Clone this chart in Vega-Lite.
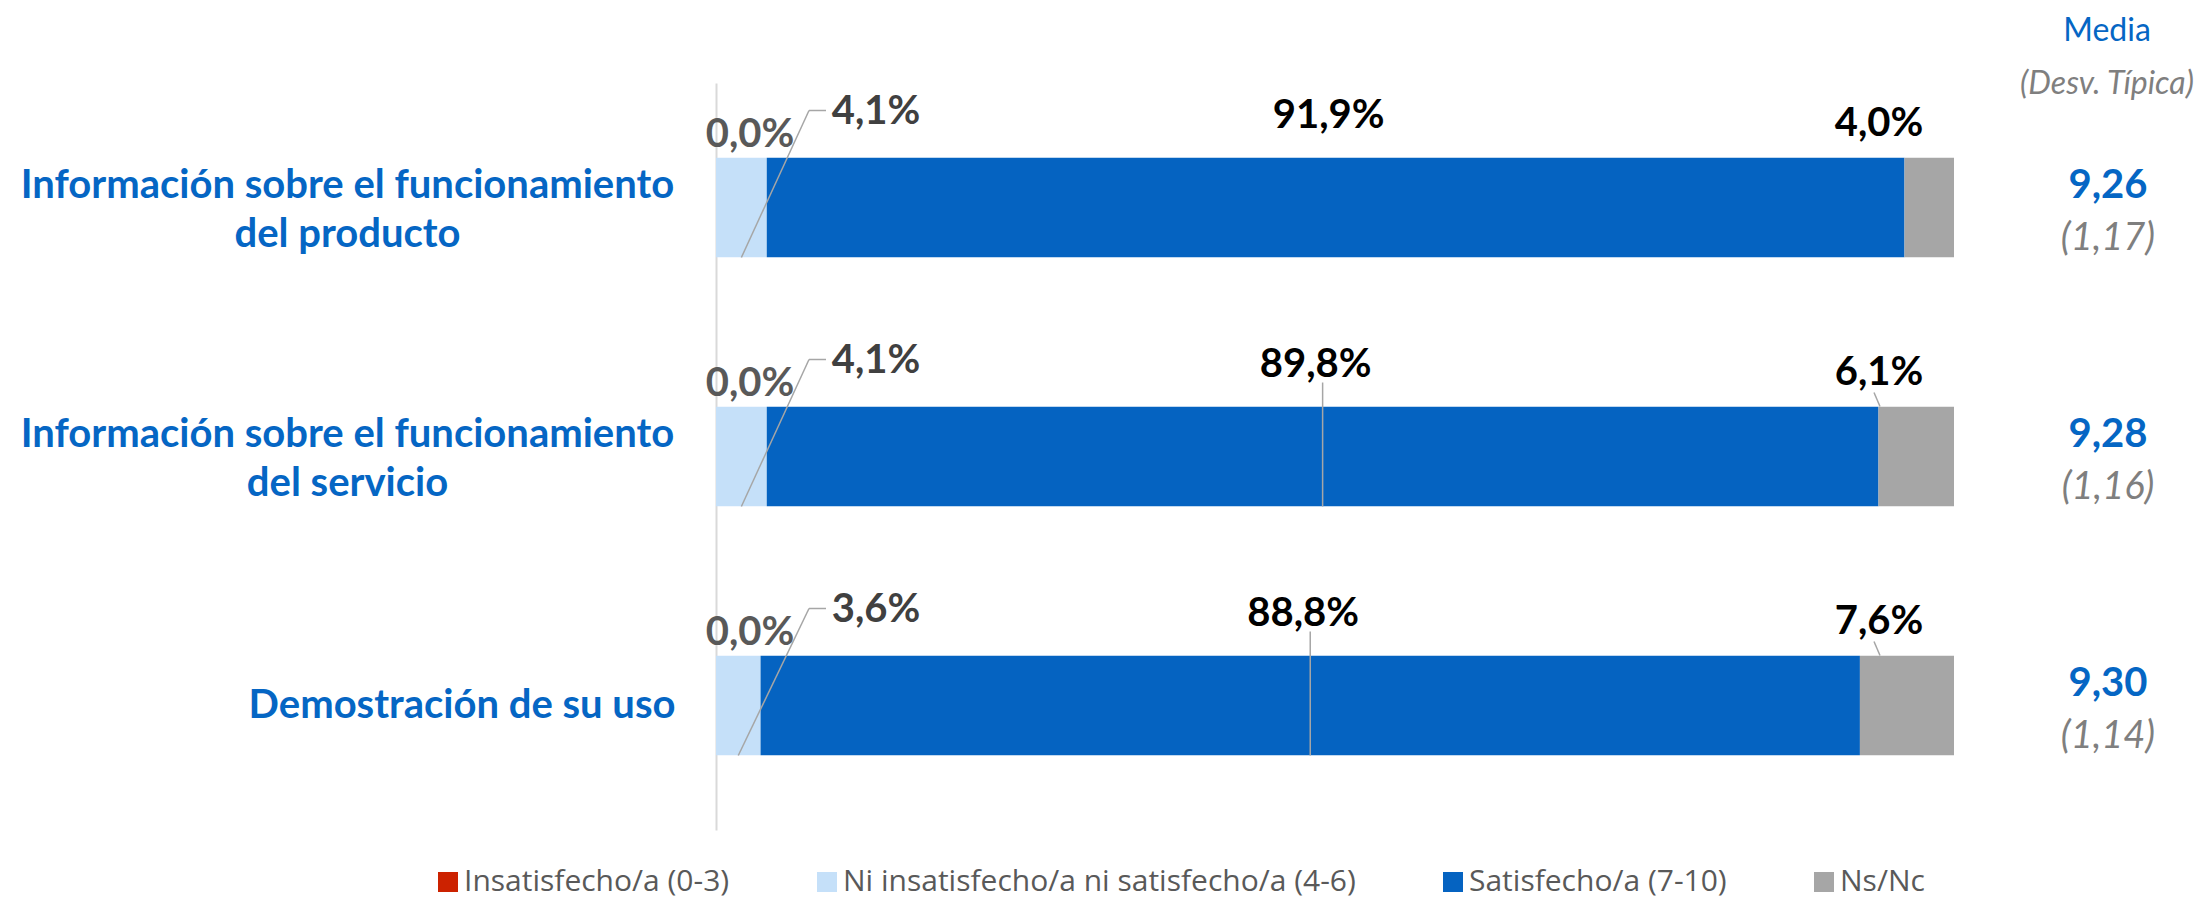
{
  "$schema": "https://vega.github.io/schema/vega-lite/v6.json",
  "width": 1238,
  "height": 747,
  "autosize": {"type": "none"},
  "padding": {"left": 716, "top": 83, "right": 253, "bottom": 69},
  "background": "white",
  "config": {"view": {"stroke": null}, "font": "Lato"},
  "title": {
    "text": "Media",
    "subtitle": "(Desv. Típica)",
    "anchor": "end",
    "frame": "group",
    "align": "center",
    "orient": "top",
    "offset": 0,
    "dx": 153,
    "dy": 18,
    "font": "Lato",
    "fontSize": 32,
    "fontWeight": "normal",
    "color": "#0566C4",
    "subtitleFont": "Lato",
    "subtitleFontSize": 32,
    "subtitleFontStyle": "italic",
    "subtitleColor": "#7F7F7F",
    "subtitlePadding": 21
  },
  "datasets": {
    "resp": [
      {"item": "Información sobre el funcionamiento del producto", "cat": "Insatisfecho/a (0-3)", "pct": 0.0},
      {"item": "Información sobre el funcionamiento del producto", "cat": "Ni insatisfecho/a ni satisfecho/a (4-6)", "pct": 4.1},
      {"item": "Información sobre el funcionamiento del producto", "cat": "Satisfecho/a (7-10)", "pct": 91.9},
      {"item": "Información sobre el funcionamiento del producto", "cat": "Ns/Nc", "pct": 4.0},
      {"item": "Información sobre el funcionamiento del servicio", "cat": "Insatisfecho/a (0-3)", "pct": 0.0},
      {"item": "Información sobre el funcionamiento del servicio", "cat": "Ni insatisfecho/a ni satisfecho/a (4-6)", "pct": 4.1},
      {"item": "Información sobre el funcionamiento del servicio", "cat": "Satisfecho/a (7-10)", "pct": 89.8},
      {"item": "Información sobre el funcionamiento del servicio", "cat": "Ns/Nc", "pct": 6.1},
      {"item": "Demostración de su uso", "cat": "Insatisfecho/a (0-3)", "pct": 0.0},
      {"item": "Demostración de su uso", "cat": "Ni insatisfecho/a ni satisfecho/a (4-6)", "pct": 3.6},
      {"item": "Demostración de su uso", "cat": "Satisfecho/a (7-10)", "pct": 88.8},
      {"item": "Demostración de su uso", "cat": "Ns/Nc", "pct": 7.6}
    ],
    "medias": [
      {"item": "Información sobre el funcionamiento del producto", "media": 9.26, "desv": 1.17},
      {"item": "Información sobre el funcionamiento del servicio", "media": 9.28, "desv": 1.16},
      {"item": "Demostración de su uso", "media": 9.30, "desv": 1.14}
    ]
  },
  "layer": [
    {
      "data": {"name": "resp"},
      "transform": [
        {"calculate": "indexof(['Insatisfecho/a (0-3)','Ni insatisfecho/a ni satisfecho/a (4-6)','Satisfecho/a (7-10)','Ns/Nc'], datum.cat)", "as": "ord"},
        {"stack": "pct", "groupby": ["item"], "sort": [{"field": "ord", "order": "ascending"}], "as": ["x0", "x1"]},
        {"calculate": "(datum.x0 + datum.x1) / 2", "as": "mid"},
        {"calculate": "replace(format(datum.pct, '.1f'), '.', ',') + '%'", "as": "lbl"},
        {"calculate": "datum.item == 'Información sobre el funcionamiento del producto'", "as": "first"}
      ],
      "layer": [
        {
          "mark": {"type": "bar"},
          "encoding": {
            "x": {"field": "x0", "type": "quantitative", "scale": {"domain": [0, 100], "nice": false, "zero": false}, "axis": null},
            "x2": {"field": "x1"},
            "y": {
              "field": "item",
              "type": "nominal",
              "scale": {
                "domain": ["Información sobre el funcionamiento del producto", "Información sobre el funcionamiento del servicio", "Demostración de su uso"],
                "paddingInner": 0.6,
                "paddingOuter": 0.3
              },
              "axis": {
                "title": null,
                "ticks": false,
                "domainColor": "#D9D9D9",
                "domainWidth": 2,
                "labelFont": "Lato",
                "labelFontWeight": "bold",
                "labelFontSize": 40,
                "labelColor": "#0566C4",
                "labelLineHeight": 49,
                "labelLimit": 1200,
                "labelExpr": "datum.value == 'Demostración de su uso' ? datum.value : [slice(datum.value, 0, 35), slice(datum.value, 36)]",
                "labelAlign": {"condition": {"test": "datum.value == 'Demostración de su uso'", "value": "right"}, "value": "center"},
                "labelPadding": {"condition": {"test": "datum.value == 'Demostración de su uso'", "value": 41}, "value": 369},
                "labelOffset": {"condition": {"test": "datum.value == 'Demostración de su uso'", "value": 0}, "value": -22}
              }
            },
            "color": {
              "field": "cat",
              "type": "nominal",
              "scale": {
                "domain": ["Insatisfecho/a (0-3)", "Ni insatisfecho/a ni satisfecho/a (4-6)", "Satisfecho/a (7-10)", "Ns/Nc"],
                "range": ["#CC2200", "#C5E0F9", "#0563C1", "#A6A6A6"]
              },
              "legend": {
                "title": null,
                "orient": "none",
                "legendX": -283,
                "legendY": 784,
                "direction": "horizontal",
                "symbolType": "square",
                "symbolSize": 400,
                "symbolStrokeWidth": 0,
                "labelFont": "Open Sans",
                "labelFontSize": 30,
                "labelColor": "#595959",
                "labelLimit": 1200,
                "labelOffset": 1,
                "columnPadding": 82
              }
            }
          }
        },
        {
          "transform": [{"filter": "datum.ord == 1"}],
          "mark": {"type": "rule", "color": "#A6A6A6", "strokeWidth": 1.5, "yOffset": 50, "x2Offset": 93, "y2Offset": -97},
          "encoding": {
            "x": {"field": "mid", "type": "quantitative"},
            "x2": {"field": "x0"},
            "y": {"field": "item", "type": "nominal"},
            "y2": {"field": "item"}
          }
        },
        {
          "transform": [{"filter": "datum.ord == 1"}],
          "mark": {"type": "rule", "color": "#A6A6A6", "strokeWidth": 1.5, "xOffset": 93, "x2Offset": 110, "yOffset": -97},
          "encoding": {
            "x": {"field": "x0", "type": "quantitative"},
            "x2": {"field": "x0"},
            "y": {"field": "item", "type": "nominal"}
          }
        },
        {
          "transform": [{"filter": "datum.ord == 2 && !datum.first"}],
          "mark": {"type": "rule", "color": "#A6A6A6", "strokeWidth": 1.5, "yOffset": -74, "y2Offset": 50},
          "encoding": {
            "x": {"field": "mid", "type": "quantitative"},
            "y": {"field": "item", "type": "nominal"},
            "y2": {"field": "item"}
          }
        },
        {
          "transform": [{"filter": "datum.ord == 3 && !datum.first"}],
          "mark": {"type": "rule", "color": "#A6A6A6", "strokeWidth": 1.5, "xOffset": -80, "x2Offset": -74, "yOffset": -64, "y2Offset": -50},
          "encoding": {
            "x": {"field": "x1", "type": "quantitative"},
            "x2": {"field": "x1"},
            "y": {"field": "item", "type": "nominal"},
            "y2": {"field": "item"}
          }
        },
        {
          "transform": [{"filter": "datum.ord == 0"}],
          "mark": {"type": "text", "font": "Lato", "fontWeight": "bold", "fontSize": 40, "color": "#595959", "dx": 34, "dy": -73},
          "encoding": {
            "x": {"field": "x0", "type": "quantitative"},
            "y": {"field": "item", "type": "nominal"},
            "text": {"field": "lbl"}
          }
        },
        {
          "transform": [{"filter": "datum.ord == 1"}],
          "mark": {"type": "text", "font": "Lato", "fontWeight": "bold", "fontSize": 40, "color": "#404040", "dx": 160, "dy": -96},
          "encoding": {
            "x": {"field": "x0", "type": "quantitative"},
            "y": {"field": "item", "type": "nominal"},
            "text": {"field": "lbl"}
          }
        },
        {
          "transform": [{"filter": "datum.ord == 2"}],
          "mark": {"type": "text", "font": "Lato", "fontWeight": "bold", "fontSize": 40, "color": "#000000", "dx": -7, "dy": -92},
          "encoding": {
            "x": {"field": "mid", "type": "quantitative"},
            "y": {"field": "item", "type": "nominal"},
            "text": {"field": "lbl"}
          }
        },
        {
          "transform": [{"filter": "datum.ord == 3"}],
          "mark": {"type": "text", "font": "Lato", "fontWeight": "bold", "fontSize": 40, "color": "#000000", "dx": -75, "dy": -84},
          "encoding": {
            "x": {"field": "x1", "type": "quantitative"},
            "y": {"field": "item", "type": "nominal"},
            "text": {"field": "lbl"}
          }
        }
      ]
    },
    {
      "data": {"name": "medias"},
      "transform": [
        {"calculate": "replace(format(datum.media, '.2f'), '.', ',')", "as": "tmedia"},
        {"calculate": "'(' + replace(format(datum.desv, '.2f'), '.', ',') + ')'", "as": "tdesv"}
      ],
      "layer": [
        {
          "mark": {"type": "text", "font": "Lato", "fontWeight": "bold", "fontSize": 40, "color": "#0566C4", "dx": 154, "dy": -22},
          "encoding": {
            "x": {"datum": 100, "type": "quantitative"},
            "y": {"field": "item", "type": "nominal"},
            "text": {"field": "tmedia"}
          }
        },
        {
          "mark": {"type": "text", "font": "Lato", "fontStyle": "italic", "fontSize": 38, "color": "#7F7F7F", "dx": 154, "dy": 31},
          "encoding": {
            "x": {"datum": 100, "type": "quantitative"},
            "y": {"field": "item", "type": "nominal"},
            "text": {"field": "tdesv"}
          }
        }
      ]
    }
  ]
}
